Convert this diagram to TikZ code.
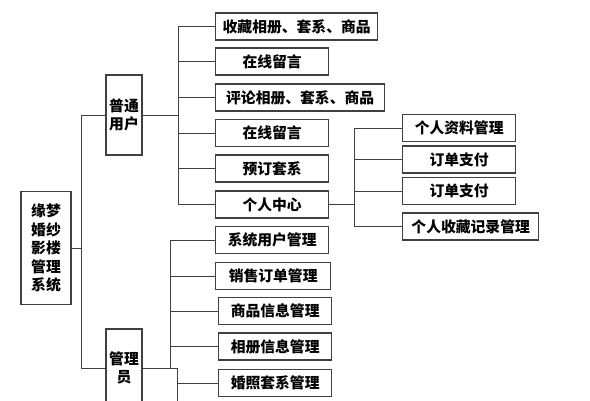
\documentclass[tikz,border=0pt]{standalone}
\usepackage{fontspec}
\newfontfamily\cjk{Noto Sans CJK SC}
\begin{document}
\begin{tikzpicture}[x=1pt,y=-1pt,
  box/.style={draw=black!75,line width=1.3pt,inner sep=0pt,align=center,
    font=\cjk\bfseries\fontsize{14.8}{18.5}\selectfont,text=black},
  leaf/.style={box,anchor=west,minimum height=27,minimum width=113},
  tall/.style={box,minimum width=36},
  wire/.style={draw=black!75,line width=0.9pt}]
  \useasboundingbox (0,0) rectangle (590,400);
  % root and the two roles
  \node[box,minimum width=50,minimum height=113] (root) at (46,248) {缘梦\\婚纱\\影楼\\管理\\系统};
  \node[tall,minimum height=80] (user) at (124,115) {普通\\用户};
  \node[tall,minimum height=78] (admin) at (124,368) {管理\\员};
  \coordinate (rj) at (81,248);
  \draw[wire] (root.east) -- (rj);
  \draw[wire] (user.west) -| (rj);
  \draw[wire] (admin.west) -| (rj);
  % user functions
  \node[leaf,minimum width=162] (u1) at (215,26.5) {收藏相册、套系、商品};
  \node[leaf] (u2) at (215,61.5) {在线留言};
  \node[leaf,minimum width=169] (u3) at (215,97.5) {评论相册、套系、商品};
  \node[leaf] (u4) at (215,133) {在线留言};
  \node[leaf] (u5) at (215,168.5) {预订套系};
  \node[leaf] (u6) at (215,204.5) {个人中心};
  \coordinate (uj) at (178,115);
  \draw[wire] (user.east) -- (uj);
  \foreach \n in {u1,u2,u3,u4,u5,u6}
    \draw[wire] (\n.west) -| (uj);
  % personal centre
  \node[leaf] (p1) at (402,128) {个人资料管理};
  \node[leaf] (p2) at (402,159.5) {订单支付};
  \node[leaf] (p3) at (402,191) {订单支付};
  \node[leaf,minimum width=136] (p4) at (402,226.5) {个人收藏记录管理};
  \coordinate (pj) at (354,204.5);
  \draw[wire] (u6.east) -- (pj);
  \foreach \n in {p1,p2,p3,p4}
    \draw[wire] (\n.west) -| (pj);
  % admin functions
  \node[leaf] (a1) at (215,240) {系统用户管理};
  \node[leaf,minimum width=115] (a2) at (215,276) {销售订单管理};
  \node[leaf] (a3) at (218,311) {商品信息管理};
  \node[leaf] (a4) at (218,346.5) {相册信息管理};
  \node[leaf] (a5) at (218,383) {婚照套系管理};
  \coordinate (aj) at (170,368);
  \coordinate (ak) at (177,368);
  \coordinate (aend) at (177,402);
  \draw[wire] (admin.east) -- (ak) -- (aend);
  \foreach \n in {a1,a2,a3,a4}
    \draw[wire] (\n.west) -| (aj);
  \draw[wire] (a5.west) -| (ak);
\end{tikzpicture}
\end{document}
